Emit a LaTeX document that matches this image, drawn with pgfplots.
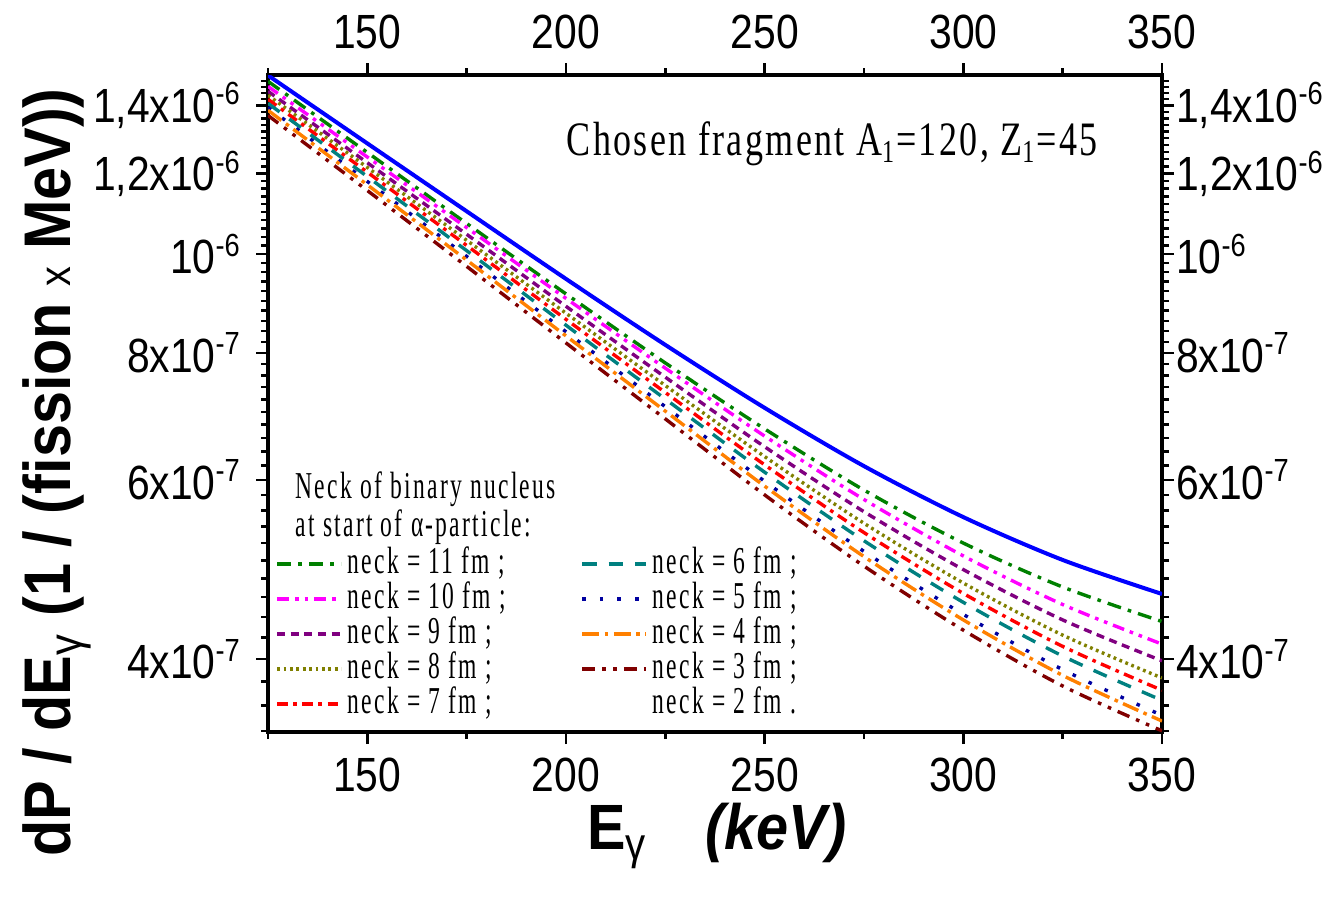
\documentclass[border=0pt]{standalone}
\usepackage{fontspec}
\setmainfont{Liberation Serif}
\newfontfamily\tickfont[FakeStretch=0.85]{Liberation Sans}
\newfontfamily\labfont[FakeStretch=0.9]{Liberation Sans}
\newfontfamily\annfont[FakeStretch=0.75, LetterSpace=5]{Liberation Serif}
\newfontfamily\legfont[FakeStretch=0.62, LetterSpace=6]{Liberation Serif}
\usepackage{pgfplots}
\pgfplotsset{compat=1.18}
\definecolor{cblue}{RGB}{0,0,255}
\definecolor{cgreen}{RGB}{0,128,0}
\definecolor{cmag}{RGB}{255,0,255}
\definecolor{cpurp}{RGB}{128,0,128}
\definecolor{colive}{RGB}{128,128,0}
\definecolor{cred}{RGB}{255,0,0}
\definecolor{cteal}{RGB}{0,128,128}
\definecolor{cnavy}{RGB}{0,0,160}
\definecolor{corange}{RGB}{255,128,0}
\definecolor{cdred}{RGB}{128,0,0}
\begin{document}
\begin{tikzpicture}
\begin{axis}[name=main,
    scale only axis, width=223.5pt, height=164.25pt,
    ymode=log,
    xmin=125, xmax=350, ymin=3.39e-7, ymax=1.5e-6,
    xtick={150,200,250,300,350}, xticklabels={150,200,250,300,350},
    minor xtick={125,175,225,275,325},
    ytick={4e-7,6e-7,8e-7,1e-6,1.2e-6,1.4e-6},
    yticklabels={{4x10\textsuperscript{-7}},{6x10\textsuperscript{-7}},{8x10\textsuperscript{-7}},{10\textsuperscript{-6}},{1,2x10\textsuperscript{-6}},{1,4x10\textsuperscript{-6}}},
    minor ytick={3.4e-7,3.6e-7,3.8e-7,4.2e-7,4.4e-7,4.6e-7,4.8e-7,5e-7,5.2e-7,5.4e-7,5.6e-7,5.8e-7,6.2e-7,6.4e-7,6.6e-7,6.8e-7,7e-7,7.2e-7,7.4e-7,7.6e-7,7.8e-7,8.2e-7,8.4e-7,8.6e-7,8.8e-7,9e-7,9.2e-7,9.4e-7,9.6e-7,9.8e-7,1.02e-6,1.04e-6,1.06e-6,1.08e-6,1.1e-6,1.12e-6,1.14e-6,1.16e-6,1.18e-6,1.22e-6,1.24e-6,1.26e-6,1.28e-6,1.3e-6,1.32e-6,1.34e-6,1.36e-6,1.38e-6,1.42e-6,1.44e-6,1.46e-6,1.48e-6},
    tick align=outside, major tick length=3pt, minor tick length=1.75pt,
    ticklabel style={font=\tickfont\fontsize{12}{12}\selectfont},
    xtick pos=both, ytick pos=both,
    every tick/.style={black, line width=0.6pt},
    axis line style={line width=0.8pt},
    xlabel={{\labfont\fontsize{16}{16}\selectfont\bfseries E\textsubscript{\mdseries γ}\hspace{0.9em}\itshape (keV)}},
    xlabel style={at={(rel axis cs:0.502,-0.158)}, anchor=center},
    ylabel={{\labfont\fontsize{16.5}{16}\selectfont\bfseries dP / dE\textsubscript{\mdseries γ} (1 / (fission {\mdseries\fontsize{11}{11}\selectfont x} MeV))}},
    ylabel style={at={(rel axis cs:-0.236,0.395)}, anchor=center},
    legend image code/.code={\draw[#1] (0pt,0pt) -- (16pt,0pt);},
    legend style={at={(rel axis cs:-0.006,0.003)}, anchor=south west, draw=none, fill=none,
      font=\legfont\fontsize{9.5}{10}\selectfont, row sep=0pt,
      nodes={text height=6.2pt, text depth=1.55pt, inner ysep=0.5pt, inner xsep=1.2pt},
      /tikz/every even column/.append style={column sep=17.5pt}},
    legend columns=5, transpose legend, legend cell align=left,
]
\addplot[cblue, line width=1pt, smooth, forget plot] coordinates {(125,1.499e-6)(150,1.285e-6)(175,1.102e-6)(200,9.456e-7)(225,8.144e-7)(250,7.062e-7)(275,6.190e-7)(300,5.515e-7)(325,5.005e-7)(350,4.634e-7)};
\addplot[cgreen, line width=0.85pt, smooth, dash pattern=on 3.5pt off 1.8pt on 0.9pt off 1.8pt] coordinates {(125,1.479e-6)(150,1.259e-6)(175,1.072e-6)(200,9.140e-7)(225,7.819e-7)(250,6.734e-7)(275,5.863e-7)(300,5.200e-7)(325,4.708e-7)(350,4.354e-7)};
\addlegendentry{neck = 11 fm ;}
\addplot[cmag, line width=0.85pt, smooth, dash pattern=on 3pt off 1.5pt on 0.9pt off 1.5pt on 0.9pt off 1.5pt] coordinates {(125,1.462e-6)(150,1.246e-6)(175,1.062e-6)(200,9.048e-7)(225,7.727e-7)(250,6.625e-7)(275,5.739e-7)(300,5.051e-7)(325,4.525e-7)(350,4.137e-7)};
\addlegendentry{neck = 10 fm ;}
\addplot[cpurp, line width=0.85pt, smooth, dash pattern=on 2pt off 1.4pt] coordinates {(125,1.446e-6)(150,1.230e-6)(175,1.046e-6)(200,8.887e-7)(225,7.570e-7)(250,6.467e-7)(275,5.583e-7)(300,4.897e-7)(325,4.370e-7)(350,3.984e-7)};
\addlegendentry{neck = 9 fm ;}
\addplot[colive, line width=0.85pt, smooth, dash pattern=on 0.7pt off 0.9pt] coordinates {(125,1.433e-6)(150,1.217e-6)(175,1.032e-6)(200,8.749e-7)(225,7.429e-7)(250,6.325e-7)(275,5.438e-7)(300,4.750e-7)(325,4.222e-7)(350,3.832e-7)};
\addlegendentry{neck = 8 fm ;}
\addplot[cred, line width=0.85pt, smooth, dash pattern=on 2.6pt off 1.4pt on 0.9pt off 1.4pt] coordinates {(125,1.420e-6)(150,1.204e-6)(175,1.020e-6)(200,8.629e-7)(225,7.312e-7)(250,6.208e-7)(275,5.325e-7)(300,4.640e-7)(325,4.116e-7)(350,3.727e-7)};
\addlegendentry{neck = 7 fm ;}
\addplot[cteal, line width=0.85pt, smooth, dash pattern=on 3.6pt off 3pt] coordinates {(125,1.407e-6)(150,1.192e-6)(175,1.008e-6)(200,8.515e-7)(225,7.205e-7)(250,6.105e-7)(275,5.227e-7)(300,4.547e-7)(325,4.027e-7)(350,3.643e-7)};
\addlegendentry{neck = 6 fm ;}
\addplot[cnavy, line width=0.85pt, smooth, dash pattern=on 0.9pt off 3.5pt] coordinates {(125,1.394e-6)(150,1.179e-6)(175,9.951e-7)(200,8.389e-7)(225,7.081e-7)(250,5.981e-7)(275,5.103e-7)(300,4.425e-7)(325,3.905e-7)(350,3.521e-7)};
\addlegendentry{neck = 5 fm ;}
\addplot[corange, line width=0.85pt, smooth, dash pattern=on 4.2pt off 1.4pt on 0.9pt off 1.4pt] coordinates {(125,1.385e-6)(150,1.170e-6)(175,9.868e-7)(200,8.311e-7)(225,7.010e-7)(250,5.915e-7)(275,5.043e-7)(300,4.370e-7)(325,3.855e-7)(350,3.476e-7)};
\addlegendentry{neck = 4 fm ;}
\addplot[cdred, line width=0.85pt, smooth, dash pattern=on 3.2pt off 1.8pt on 0.9pt off 1.8pt on 0.9pt off 1.8pt] coordinates {(125,1.369e-6)(150,1.155e-6)(175,9.728e-7)(200,8.180e-7)(225,6.888e-7)(250,5.799e-7)(275,4.936e-7)(300,4.270e-7)(325,3.763e-7)(350,3.400e-7)};
\addlegendentry{neck = 3 fm ;}
\addlegendimage{opacity=0}
\addlegendentry{neck = 2 fm .}
\node[font=\annfont\fontsize{12}{12}\selectfont] at (rel axis cs:0.631,0.895) {Chosen fragment A\textsubscript{1}=120, Z\textsubscript{1}=45};
\node[anchor=west, font=\legfont\fontsize{9.5}{10}\selectfont, inner sep=0pt] at (rel axis cs:0.03,0.37) {Neck of binary nucleus};
\node[anchor=west, font=\legfont\fontsize{9.5}{10}\selectfont, inner sep=0pt] at (rel axis cs:0.03,0.312) {at start of α-particle:};
\end{axis}
\begin{axis}[
    scale only axis, width=223.5pt, height=164.25pt,
    ymode=log,
    xmin=125, xmax=350, ymin=3.39e-7, ymax=1.5e-6,
    xtick={150,200,250,300,350}, xticklabels={150,200,250,300,350},
    ytick={4e-7,6e-7,8e-7,1e-6,1.2e-6,1.4e-6},
    yticklabels={{4x10\textsuperscript{-7}},{6x10\textsuperscript{-7}},{8x10\textsuperscript{-7}},{10\textsuperscript{-6}},{1,2x10\textsuperscript{-6}},{1,4x10\textsuperscript{-6}}},
    tick align=outside, major tick length=3pt,
    ticklabel style={font=\tickfont\fontsize{12}{12}\selectfont},
    yticklabel style={xshift=-3pt},
    xticklabel pos=right, yticklabel pos=right,
    xtick pos=right, ytick pos=right,
    every tick/.style={draw=none},
    axis line style={draw=none},
]
\addplot[draw=none] coordinates {(200,1e-6)};
\end{axis}
\pgfresetboundingbox
\path[use as bounding box] ([xshift=-67pt,yshift=-42pt]main.south west) rectangle ([xshift=43pt,yshift=18.75pt]main.north east);
\end{tikzpicture}
\end{document}
